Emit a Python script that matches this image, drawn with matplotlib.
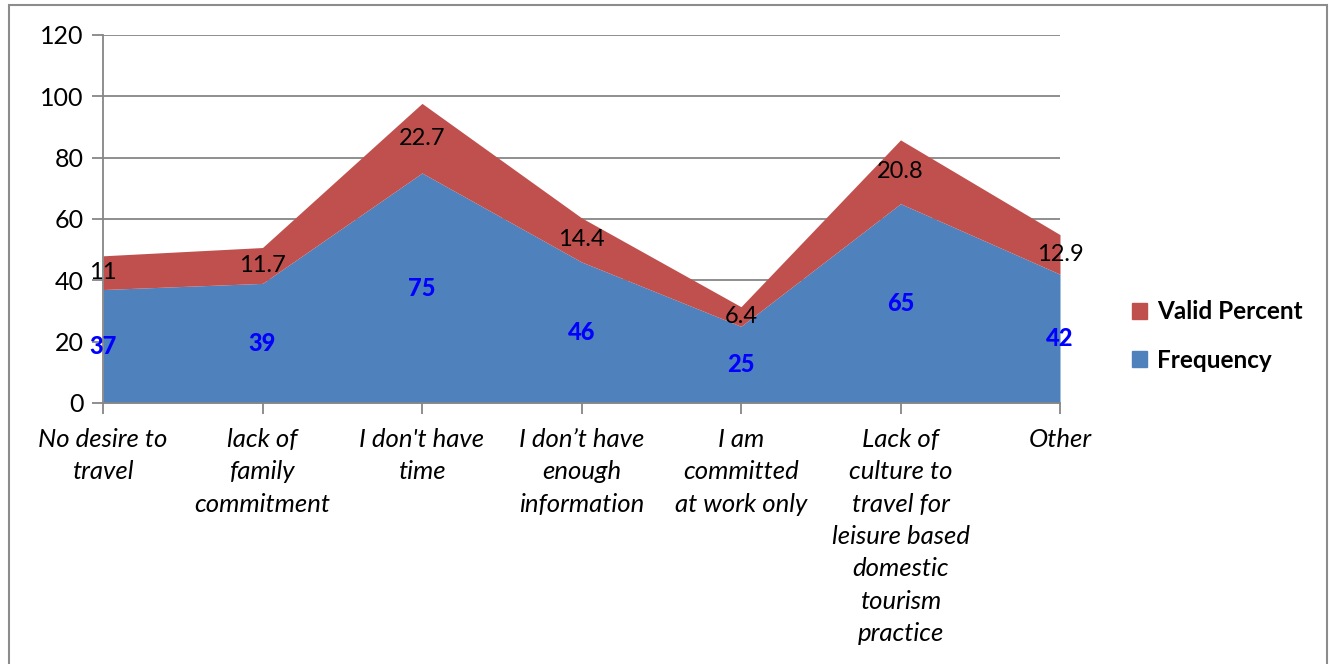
import matplotlib
matplotlib.use('Agg')
import matplotlib.pyplot as plt
from matplotlib.patches import Rectangle, Patch
import numpy as np

categories = ["No desire to\ntravel", "lack of\nfamily\ncommitment", "I don't have\ntime",
              "I don\u2019t have\nenough\ninformation", "I am\ncommitted\nat work only",
              "Lack of\nculture to\ntravel for\nleisure based\ndomestic\ntourism\npractice",
              "Other"]
frequency = [37, 39, 75, 46, 25, 65, 42]
valid_percent = [11, 11.7, 22.7, 14.4, 6.4, 20.8, 12.9]
y_ticks = [0, 20, 40, 60, 80, 100, 120]

plt.rcParams['font.family'] = ['Lato', 'DejaVu Sans']

blue = '#4F81BD'
red = '#C0504D'
grid_c = '#868686'

fig = plt.figure(figsize=(13.3, 6.64), dpi=100)
fig.patches.append(Rectangle((9 / 1330, -0.1), (1327 - 9) / 1330, 1.1 - 5 / 664,
                             transform=fig.transFigure, fill=False,
                             edgecolor='#8c8c8c', linewidth=1.5))
ax = fig.add_axes([103 / 1330, 1 - 403 / 664, (1060 - 103) / 1330, (403 - 35) / 664])

x = np.arange(len(categories))
f = np.array(frequency)
v = np.array(valid_percent)
ax.fill_between(x, 0, f, color=blue, linewidth=0, zorder=2)
ax.fill_between(x, f, f + v, color=red, linewidth=0, zorder=2)

for i in range(len(x)):
    ax.text(x[i], f[i] / 2, str(frequency[i]), color='#0000FF', fontweight='black',
            fontsize=17, ha='center', va='center', zorder=3)
    ax.text(x[i], f[i] + v[i] / 2, f"{valid_percent[i]:g}", color='black',
            fontsize=17, ha='center', va='center', zorder=3)

ax.set_xlim(0, len(x) - 1)
ax.set_ylim(0, 120)
ax.set_yticks(y_ticks)
ax.set_yticklabels([str(t) for t in y_ticks], fontsize=18)
ax.yaxis.grid(True, color=grid_c, linewidth=1.3, zorder=1)
ax.set_axisbelow(True)
ax.set_xticks(x)
ax.set_xticklabels(categories, fontsize=18.5, style='italic', linespacing=1.49, va='top')
ax.tick_params(axis='both', length=8, color=grid_c, width=1.3, pad=6)
ax.tick_params(axis='x', pad=10)
for s in ['top', 'right']:
    ax.spines[s].set_visible(False)
for s in ['left', 'bottom']:
    ax.spines[s].set_color(grid_c)
    ax.spines[s].set_linewidth(1.3)

handles = [Patch(color=red, label='Valid Percent'), Patch(color=blue, label='Frequency')]
leg = fig.legend(handles=handles, loc='center left', bbox_to_anchor=(1110 / 1330, 1 - 336 / 664),
                 frameon=False, prop={'size': 17.5, 'weight': 'bold'}, handlelength=0.62,
                 handleheight=0.62, handletextpad=0.4, labelspacing=1.05)

fig.savefig('out.png', dpi=100)
